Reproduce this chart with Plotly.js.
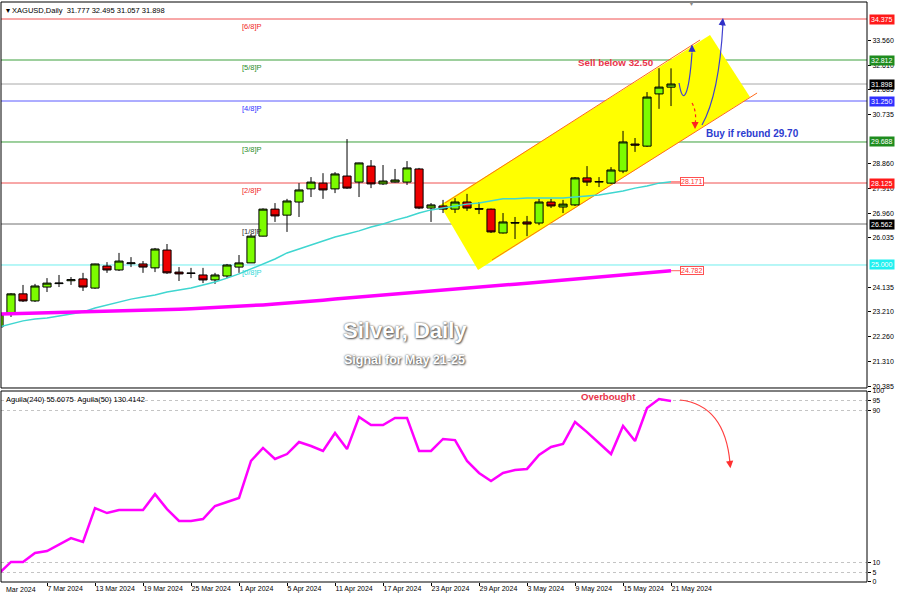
<!DOCTYPE html>
<html><head><meta charset="utf-8">
<script src="https://cdn.plot.ly/plotly-3.0.1.min.js"></script>
<style>html,body{margin:0;padding:0;background:#fff;}#chart{width:900px;height:600px;}</style>
</head><body><div id="chart"></div>
<script>
// ---------------- DATA ----------------
const dates = [
 '2024-03-01','2024-03-04','2024-03-05','2024-03-06','2024-03-07','2024-03-08','2024-03-11','2024-03-12','2024-03-13','2024-03-14',
 '2024-03-15','2024-03-18','2024-03-19','2024-03-20','2024-03-21','2024-03-22','2024-03-25','2024-03-26','2024-03-27','2024-03-28',
 '2024-04-01','2024-04-02','2024-04-03','2024-04-04','2024-04-05','2024-04-08','2024-04-09','2024-04-10','2024-04-11','2024-04-12',
 '2024-04-15','2024-04-16','2024-04-17','2024-04-18','2024-04-19','2024-04-22','2024-04-23','2024-04-24','2024-04-25','2024-04-26',
 '2024-04-29','2024-04-30','2024-05-01','2024-05-02','2024-05-03','2024-05-06','2024-05-07','2024-05-08','2024-05-09','2024-05-10',
 '2024-05-13','2024-05-14','2024-05-15','2024-05-16','2024-05-17','2024-05-20','2024-05-21'];
const opens = [22.64,23.13,23.90,23.63,24.16,24.29,24.40,24.47,24.12,24.96,
 24.81,25.05,25.04,24.89,25.57,24.73,24.68,24.62,24.43,24.58,
 24.92,25.08,26.10,27.13,26.90,27.40,27.90,28.12,27.90,28.39,
 28.16,28.77,28.09,28.16,28.16,28.66,27.17,27.25,27.13,27.40,
 27.15,27.13,26.22,26.62,26.64,26.60,27.40,27.21,27.29,28.32,
 28.16,28.12,28.58,29.61,29.53,31.52,31.777];
const highs = [23.20,23.93,24.24,24.28,24.50,24.62,24.54,24.70,25.05,25.11,
 25.46,25.30,25.15,25.65,25.80,24.92,24.89,24.89,24.70,25.04,
 25.38,26.18,27.16,27.36,27.52,28.12,28.35,28.50,28.54,29.80,
 28.90,29.00,28.81,28.66,28.96,28.70,27.36,27.48,27.55,27.71,
 27.40,27.15,26.98,26.83,26.87,27.52,27.52,27.48,28.35,28.77,
 28.35,28.73,30.11,29.84,31.59,32.50,32.495];
const lows = [22.55,23.02,23.59,23.59,23.97,24.16,24.24,24.01,24.09,24.70,
 24.77,24.92,24.70,24.73,24.66,24.39,24.50,24.31,24.28,24.50,
 24.70,25.08,26.09,26.64,26.26,26.83,27.59,27.52,27.74,27.90,
 27.59,27.93,28.05,28.14,28.05,27.13,26.64,26.98,26.98,27.06,
 26.94,26.22,26.20,25.99,26.10,26.52,27.17,26.98,27.25,28.01,
 27.97,28.09,28.50,29.31,29.50,30.95,31.057];
const closes = [23.13,23.90,23.63,24.20,24.31,24.31,24.44,24.16,25.04,24.81,
 25.15,25.08,24.92,25.61,24.70,24.66,24.69,24.43,24.62,25.00,
 25.08,26.10,27.13,26.87,27.44,27.86,28.16,27.86,28.47,27.93,
 28.89,28.09,28.20,28.24,28.70,27.17,27.29,27.13,27.40,27.17,
 27.13,26.26,26.64,26.60,26.56,27.40,27.25,27.32,28.32,28.16,
 28.18,28.62,29.69,29.57,31.40,31.78,31.898];
const maFast = [22.64,22.75,22.87,22.94,22.98,23.06,23.13,23.21,23.36,23.48,
 23.59,23.70,23.78,23.86,23.97,24.05,24.12,24.24,24.35,24.50,
 24.66,24.85,25.04,25.23,25.46,25.61,25.76,25.91,26.07,26.18,
 26.30,26.45,26.56,26.71,26.83,26.98,27.10,27.17,27.25,27.32,
 27.36,27.44,27.52,27.52,27.55,27.55,27.55,27.55,27.59,27.63,
 27.67,27.74,27.82,27.93,28.01,28.12,28.171];
const maSlow = [23.13,23.14,23.15,23.16,23.17,23.18,23.19,23.20,23.21,23.22,
 23.23,23.25,23.26,23.28,23.29,23.31,23.33,23.35,23.37,23.40,
 23.42,23.45,23.48,23.51,23.54,23.58,23.62,23.66,23.70,23.74,
 23.78,23.82,23.86,23.90,23.94,23.98,24.02,24.06,24.10,24.13,
 24.17,24.20,24.24,24.27,24.30,24.34,24.38,24.42,24.46,24.50,
 24.54,24.58,24.62,24.66,24.70,24.74,24.782];
const aguila = [4.5,10.5,10.5,15.2,16.2,19.4,23.0,21.0,38.7,36.1,
 37.7,37.7,37.7,46.0,38.2,32.0,32.0,33.0,39.8,41.9,
 44.0,63.4,70.2,64.4,67.0,73.3,71.2,68.6,78.0,69.6,
 86.4,82.2,82.2,85.9,85.9,68.6,68.6,74.9,74.3,63.4,
 57.1,52.9,57.1,58.6,59.2,66.5,70.7,72.3,83.8,78.5,
 72.8,67.0,81.7,73.8,91.1,95.8,94.8];
const tickDates = ['2024-03-07','2024-03-13','2024-03-19','2024-03-25','2024-04-01','2024-04-05','2024-04-11',
 '2024-04-17','2024-04-23','2024-04-29','2024-05-03','2024-05-09','2024-05-15','2024-05-21'];
const tickLabels = ['7 Mar 2024','13 Mar 2024','19 Mar 2024','25 Mar 2024','1 Apr 2024','5 Apr 2024','11 Apr 2024',
 '17 Apr 2024','23 Apr 2024','29 Apr 2024','3 May 2024','9 May 2024','15 May 2024','21 May 2024'];
const priceTicks = [33.560,32.610,31.685,30.735,28.860,27.910,26.960,26.035,24.135,23.210,22.260,21.310,20.385];
const oscTicks = [100,95,90,10,5,0];
const levelValues = [34.375,32.812,31.250,29.688,28.125,26.562,25.000];
const levelLabels = ['[6/8]P','[5/8]P','[4/8]P','[3/8]P','[2/8]P','[1/8]P','[0/8]P'];
const lastPrice = 31.898;
const headerText = '\u25BE XAGUSD,Daily  31.777 32.495 31.057 31.898';
const oscHeader = 'Aguila(240) 55.6075  Aguila(50) 130.4142';

// ---------------- STYLE ----------------
const FONT = 'Liberation Sans, Arial, sans-serif';
const levelLine = ['#f05050','#3ca03c','#5a5aff','#3ca03c','#f05050','#707070','#70eeee'];
const levelText = ['#f02828','#2a8c2a','#3232ff','#2a8c2a','#f02828','#303030','#30d8d8'];
const levelBox  = ['#ff1a1a','#1e8c1e','#3030ff','#1e8c1e','#ff1a1a','#000000','#20f0f0'];

const idx = dates.map((d,i)=>i);
const n = idx.length;

const traces = [
  {type:'candlestick', x:idx, open:opens, high:highs, low:lows, close:closes,
   increasing:{fillcolor:'#7CFC00', line:{color:'#000', width:1}},
   decreasing:{fillcolor:'#ee0000', line:{color:'#000', width:1}},
   whiskerwidth:0, hoverinfo:'skip', xaxis:'x', yaxis:'y'},
  {type:'scatter', mode:'lines', x:idx, y:maFast, line:{color:'#3fd6d0', width:1.5}, hoverinfo:'skip', xaxis:'x', yaxis:'y'},
  {type:'scatter', mode:'lines', x:idx, y:maSlow, line:{color:'#ff00ff', width:3.5}, hoverinfo:'skip', xaxis:'x', yaxis:'y'},
  {type:'scatter', mode:'lines', x:idx, y:aguila, line:{color:'#ff00ff', width:2.5}, hoverinfo:'skip', xaxis:'x', yaxis:'y2'}
];

const MAIN_DOM = [0.3345, 1];
const OSC_DOM = [0, 0.3293];

const shapes = [];
// channel
shapes.push({type:'path', xref:'x', yref:'y', layer:'below', line:{width:0}, fillcolor:'#ffff00',
  path:'M 36.75,27.287 L 59.25,33.765 L 62.58,31.402 L 39.92,24.809 Z'});
shapes.push({type:'line', xref:'x', yref:'y', layer:'below', x0:37.17, y0:27.363, x1:58.42, y1:33.575, line:{color:'#ff6a1a', width:1}});
shapes.push({type:'line', xref:'x', yref:'y', layer:'below', x0:41.08, y0:25.19, x1:63.17, y1:31.555, line:{color:'#ff6a1a', width:1}});
// levels
levelValues.forEach((v,k)=>{
  shapes.push({type:'line', xref:'paper', yref:'y', layer:'below', x0:0, x1:1, y0:v, y1:v, line:{color:levelLine[k], width:1}});
});
shapes.push({type:'line', xref:'paper', yref:'y', layer:'below', x0:0, x1:1, y0:lastPrice, y1:lastPrice, line:{color:'#a8a8a8', width:1}});
// MA end connectors
shapes.push({type:'line', xref:'x', yref:'y', x0:n-1, x1:n-0.25, y0:maFast[n-1], y1:maFast[n-1], line:{color:'#ff6060', width:1}});
shapes.push({type:'line', xref:'x', yref:'y', x0:n-1, x1:n-0.25, y0:maSlow[n-1], y1:maSlow[n-1], line:{color:'#ff6060', width:1}});
// projection arrows
shapes.push({type:'path', xref:'x', yref:'y', line:{color:'#4040d0', width:1.2},
  path:'M 56.67,31.936 C 57.0,30.983 57.5,31.479 57.75,33.1'});
shapes.push({type:'path', xref:'x', yref:'y', line:{color:'#4040d0', width:1.2},
  path:'M 58.58,30.335 Q 60.0,31.479 60.33,34.2'});
shapes.push({type:'path', xref:'x', yref:'y', line:{color:'#ff2020', width:1.2, dash:'dot'},
  path:'M 57.75,31.174 Q 58.17,30.831 58.0,30.35'});
shapes.push({type:'path', xref:'x', yref:'y2', line:{color:'#ff4040', width:1.2},
  path:'M 56.75,95.29 Q 60.5,92.67 60.92,62.0'});
// panel frames
shapes.push({type:'rect', xref:'paper', yref:'paper', x0:0, x1:1, y0:MAIN_DOM[0], y1:MAIN_DOM[1], line:{color:'#000', width:1}});
shapes.push({type:'rect', xref:'paper', yref:'paper', x0:0, x1:1, y0:OSC_DOM[0], y1:OSC_DOM[1], line:{color:'#000', width:1}});

const annotations = [];
// header texts
annotations.push({xref:'paper', yref:'paper', x:0.003, y:1, xanchor:'left', yanchor:'top', yshift:-2, showarrow:false,
  text:headerText, font:{family:FONT, size:7.5, color:'#000'}});
annotations.push({xref:'paper', yref:'paper', x:0.003, y:OSC_DOM[1], xanchor:'left', yanchor:'top', yshift:-2, showarrow:false,
  text:oscHeader, font:{family:FONT, size:7.5, color:'#000'}});
annotations.push({xref:'paper', yref:'paper', x:0.797, y:1, xanchor:'center', yanchor:'middle', yshift:-1, showarrow:false,
  text:'\u25BC', font:{family:FONT, size:7, color:'#8a8a8a'}});
// level labels and axis boxes
levelValues.forEach((v,k)=>{
  annotations.push({xref:'x', yref:'y', x:20.08, y:v, xanchor:'left', yanchor:'top', yshift:-1, showarrow:false,
    text:levelLabels[k], font:{family:FONT, size:7.5, color:levelText[k]}});
  annotations.push({xref:'paper', yref:'y', x:1, y:v, xanchor:'left', yanchor:'middle', xshift:2, showarrow:false,
    text:v.toFixed(3), bgcolor:levelBox[k], borderpad:1, font:{family:FONT, size:7, color:'#fff'}});
});
annotations.push({xref:'paper', yref:'y', x:1, y:lastPrice, xanchor:'left', yanchor:'middle', xshift:2, showarrow:false,
  text:lastPrice.toFixed(3), bgcolor:'#000', borderpad:1, font:{family:FONT, size:7, color:'#fff'}});
// MA value boxes
[maFast[n-1], maSlow[n-1]].forEach(v=>{
  annotations.push({xref:'x', yref:'y', x:n-0.25, y:v, xanchor:'left', yanchor:'middle', showarrow:false,
    text:v.toFixed(3), bgcolor:'#fff', bordercolor:'#ff5050', borderwidth:1, borderpad:0, font:{family:FONT, size:7, color:'#ff3030'}});
});
// first date label (partly off-chart)
annotations.push({xref:'paper', yref:'paper', x:0.004, y:0, xanchor:'left', yanchor:'top', yshift:-2, showarrow:false,
  text:'Mar 2024', font:{family:FONT, size:7, color:'#000'}});
// text notes
annotations.push({xref:'x', yref:'y', x:51.4, y:32.70, showarrow:false, text:'<b>Sell below 32.50</b>',
  font:{family:FONT, size:9.8, color:'#e8344a'}});
annotations.push({xref:'x', yref:'y', x:62.75, y:30.03, showarrow:false, text:'<b>Buy if rebund 29.70</b>',
  font:{family:FONT, size:10, color:'#2c3cd0'}});
annotations.push({xref:'x', yref:'y2', x:50.75, y:96.9, showarrow:false, text:'<b>Overbought</b>',
  font:{family:FONT, size:9.6, color:'#e8344a'}});
annotations.push({xref:'x', yref:'y', x:33.83, y:22.52, showarrow:false, text:'<b>Silver, Daily</b>',
  font:{family:FONT, size:22, color:'#ffffff', shadow:'0px 0px 2px #444, 1px 1px 2px #666'}});
annotations.push({xref:'x', yref:'y', x:33.75, y:21.38, showarrow:false, text:'<b>Signal for May 21-25</b>',
  font:{family:FONT, size:12.5, color:'#ffffff', shadow:'0px 0px 2px #444, 1px 1px 2px #666'}});
// arrowheads
const head = (x,y,ax,ay,c,yref)=>({xref:'x', yref:yref||'y', x:x, y:y, ax:ax, ay:ay, text:'', showarrow:true,
  arrowhead:2, arrowsize:1.2, arrowwidth:1.2, arrowcolor:c, standoff:0});
annotations.push(head(57.75,33.40,0,9,'#3030c8'));
annotations.push(head(60.33,34.41,-1,9,'#3030c8'));
annotations.push(head(58.0,30.18,0,-8,'#ff2020'));
annotations.push(head(60.95,59.6,-1,-9,'#ff3030','y2'));

const layout = {
  width:900, height:600,
  margin:{l:1, r:33, t:2, b:18, pad:0},
  paper_bgcolor:'#ffffff', plot_bgcolor:'#ffffff',
  showlegend:false, dragmode:false, hovermode:false,
  boxgap:0.2, boxgroupgap:0.15,
  font:{family:FONT, size:7, color:'#000'},
  xaxis:{anchor:'y2', range:[0.1667, 72.33], tickvals:tickDates.map(d=>dates.indexOf(d)), ticktext:tickLabels,
    tickangle:0, ticklabelposition:'outside right', ticks:'outside', ticklen:3, tickcolor:'#000', showgrid:false, zeroline:false,
    showline:false, tickfont:{family:FONT, size:7, color:'#000'}, rangeslider:{visible:false}, fixedrange:true},
  yaxis:{domain:MAIN_DOM, range:[20.3125, 35.023], side:'right', tickvals:priceTicks, ticktext:priceTicks.map(v=>v.toFixed(3)),
    ticks:'outside', ticklen:3, tickcolor:'#000', showgrid:false, zeroline:false, showline:false,
    tickfont:{family:FONT, size:7, color:'#000'}, fixedrange:true},
  yaxis2:{domain:OSC_DOM, range:[0,100], side:'right', tickvals:oscTicks, ticktext:oscTicks.map(String),
    ticks:'outside', ticklen:3, tickcolor:'#000', showgrid:true, gridcolor:'#c4c4c4', griddash:'dot', gridwidth:1,
    zeroline:false, showline:false, tickfont:{family:FONT, size:7, color:'#000'}, fixedrange:true},
  shapes:shapes, annotations:annotations
};

Plotly.newPlot('chart', traces, layout, {displayModeBar:false, staticPlot:true});
</script>
</body></html>
